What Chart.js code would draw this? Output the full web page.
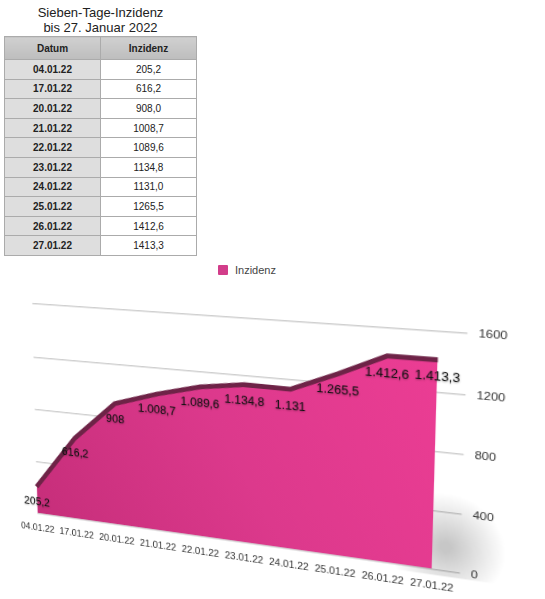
<!DOCTYPE html>
<html>
<head>
<meta charset="utf-8">
<script src="https://cdn.jsdelivr.net/npm/chart.js@4.4.1/dist/chart.umd.min.js"></script>
<style>
  html, body { margin: 0; padding: 0; background: #fff; width: 545px; height: 599px; overflow: hidden; }
  body { font-family: "Liberation Sans", Arial, Helvetica, sans-serif; position: relative; }
  #title { position: absolute; left: 4px; top: 5px; width: 193px; text-align: center; font-size: 13px; line-height: 15px; color: #222; }
  #tbl { position: absolute; left: 4px; top: 36px; width: 193px; border-collapse: collapse; font-size: 10px; color: #222; }
  #tbl th, #tbl td { border: 1px solid #ababab; text-align: center; padding: 0; }
  #tbl th { background: linear-gradient(#d0d0d0, #bdbdbd); height: 22px; font-weight: bold; }
  #tbl td { height: 18.6px; }
  #tbl td.d { background: #dedede; font-weight: bold; width: 95px; }
  #tbl td.v { background: #fff; }
  #legend { position: absolute; left: 218px; top: 264px; font-size: 11px; color: #444; display: flex; align-items: center; }
  #legend span.box { display: inline-block; width: 10px; height: 10px; margin-right: 7px; border-radius: 1px; }
  #wrap { position: absolute; left: 0; top: 300px; width: 522px; height: 282px; }
</style>
</head>
<body>
<div id="title">Sieben-Tage-Inzidenz<br>bis 27. Januar 2022</div>
<table id="tbl"></table>
<div id="legend"></div>
<div id="wrap"><canvas id="inz"></canvas></div>
<script>
const dates = ['04.01.22', '17.01.22', '20.01.22', '21.01.22', '22.01.22', '23.01.22', '24.01.22', '25.01.22', '26.01.22', '27.01.22'];
const inzidenz = [205.2, 616.2, 908.0, 1008.7, 1089.6, 1134.8, 1131.0, 1265.5, 1412.6, 1413.3];
const yTicks = [0, 400, 800, 1200, 1600];
const seriesName = 'Inzidenz';

// Tabelle
let tbl = document.getElementById('tbl');
let html = '<tr><th>Datum</th><th>' + seriesName + '</th></tr>';
for (let i = 0; i < dates.length; i++) {
  html += '<tr><td class="d">' + dates[i] + '</td><td class="v">' + inzidenz[i].toFixed(1).replace('.', ',') + '</td></tr>';
}
tbl.innerHTML = html;

// deutsche Zahlen: 1.008,7 / 908 / 1.131
function fmtDe(v) {
  let r = Math.round(v * 10) / 10;
  let whole = Math.trunc(r);
  let dec = Math.round((r - whole) * 10);
  let s = String(whole).replace(/\B(?=(\d{3})+(?!\d))/g, '.');
  return dec ? s + ',' + dec : s;
}

const valueLabels = {
  id: 'valueLabels',
  beforeDatasetsDraw(chart) {
    // Schatten am Boden rechts
    let a = chart.chartArea, ctx = chart.ctx;
    let cx = a.right + 12, cy = a.bottom - 24;
    let g = ctx.createRadialGradient(cx, cy, 5, cx, cy, 55);
    g.addColorStop(0, 'rgba(0,0,0,0.22)');
    g.addColorStop(1, 'rgba(0,0,0,0)');
    ctx.save();
    ctx.fillStyle = g;
    ctx.fillRect(cx - 65, cy - 60, 130, 90);
    ctx.restore();
  },
  afterDatasetsDraw(chart) {
    let ctx = chart.ctx;
    let meta = chart.getDatasetMeta(0);
    ctx.save();
    ctx.font = '12.5px "Liberation Sans", Arial, sans-serif';
    ctx.textAlign = 'center';
    ctx.textBaseline = 'top';
    ctx.shadowColor = 'rgba(0,0,0,0.35)';
    ctx.shadowBlur = 2;
    ctx.shadowOffsetY = 1;
    ctx.fillStyle = '#111';
    meta.data.forEach((pt, i) => {
      ctx.fillText(fmtDe(inzidenz[i]), pt.x, pt.y + 11);
    });
    ctx.restore();
  }
};

let chart = new Chart(document.getElementById('inz'), {
  type: 'line',
  data: {
    labels: dates,
    datasets: [{
      label: seriesName,
      data: inzidenz,
      fill: 'origin',
      borderColor: '#6e2347',
      borderWidth: 5,
      pointRadius: 0,
      tension: 0,
      backgroundColor: function (context) {
        let a = context.chart.chartArea;
        if (!a) return '#de3a8e';
        let g = context.chart.ctx.createLinearGradient(a.right, a.top, a.left, a.bottom);
        g.addColorStop(0, '#ec3d94');
        g.addColorStop(0.5, '#dc398c');
        g.addColorStop(1, '#c62e7a');
        return g;
      }
    }]
  },
  options: {
    responsive: true,
    maintainAspectRatio: false,
    animation: false,
    layout: { padding: { left: 10, right: 4, top: 8, bottom: 0 } },
    plugins: {
      legend: { display: false },
      tooltip: { enabled: false }
    },
    scales: {
      x: {
        grid: { display: false },
        border: { display: false },
        ticks: { color: '#333', font: { size: 10.5, family: '"Liberation Sans", Arial, sans-serif' }, maxRotation: 0, autoSkip: false }
      },
      y: {
        position: 'right',
        min: 0,
        max: yTicks[yTicks.length - 1],
        afterBuildTicks(axis) { axis.ticks = yTicks.map(v => ({ value: v })); },
        grid: { color: '#cfcfcf', lineWidth: 1.5, drawTicks: true, tickLength: 26 },
        border: { display: false },
        ticks: { color: '#333', padding: 10, callback: v => String(v), font: { size: 11.5, family: '"Liberation Sans", Arial, sans-serif' } }
      }
    }
  },
  plugins: [valueLabels]
});

// Perspektive wie im 3D-Original
let a = chart.chartArea;
let ox = (a.left + a.right) / 2;
let oy = a.top - 150;
let wrap = document.getElementById('wrap');
wrap.style.transformOrigin = ox + 'px ' + oy + 'px';
wrap.style.transform = 'perspective(700px) rotateX(-5deg) rotateY(-13deg)';
wrap.style.left = (222 - ox) + 'px';
wrap.style.top = (170 - oy) + 'px';

// Legende als HTML, aus dem Chart erzeugt
let items = chart.options.plugins.legend.labels.generateLabels(chart);
let leg = document.getElementById('legend');
items.forEach(it => {
  leg.innerHTML += '<span class="box" style="background:#d23d8a"></span><span>' + it.text + '</span>';
});
</script>
</body>
</html>
